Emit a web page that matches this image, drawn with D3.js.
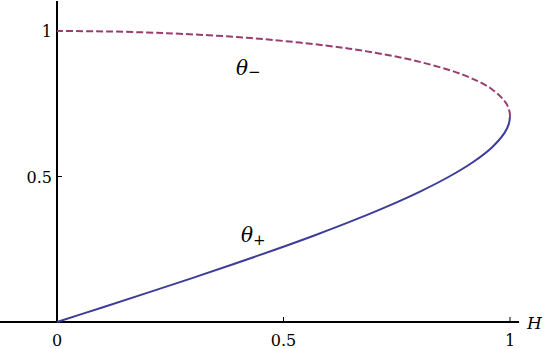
<!DOCTYPE html>
<html>
<head>
<meta charset="utf-8">
<script src="https://cdn.jsdelivr.net/npm/d3@7"></script>
<style>
  body { margin: 0; background: #fff; }
</style>
</head>
<body>
<div id="chart"></div>
<script>
  // lower branch theta+ (solid) : H vs theta
  const hPlus = [0, 0.0999, 0.1990, 0.2966, 0.3919, 0.4841, 0.5724, 0.6557, 0.7332, 0.8037, 0.8660, 0.9187, 0.9600, 0.9879, 0.9972, 1.0];
  const thetaPlus = [0, 0.05, 0.10, 0.15, 0.20, 0.25, 0.30, 0.35, 0.40, 0.45, 0.50, 0.55, 0.60, 0.65, 0.68, 0.7071];
  // upper branch theta- (dashed)
  const hMinus = [1.0, 0.9993, 0.9922, 0.9600, 0.8955, 0.7846, 0.6837, 0.5933, 0.4716, 0.3900, 0.2793, 0.1987, 0.1018, 0];
  const thetaMinus = [0.7071, 0.72, 0.75, 0.80, 0.85, 0.90, 0.93, 0.95, 0.97, 0.98, 0.99, 0.995, 0.9987, 1.0];

  const xTicks = [0, 0.5, 1];
  const yTicks = [0.5, 1];

  const width = 545, height = 349;
  const serif = "DejaVu Serif";

  const svg = d3.select("#chart")
    .append("svg")
      .attr("width", width)
      .attr("height", height)
      .style("font-family", serif);

  const x = d3.scaleLinear().domain([0, 1]).range([57, 510]);
  const y = d3.scaleLinear().domain([0, 1]).range([322, 31]);

  // axes lines
  svg.append("line")
    .attr("x1", 0).attr("x2", x(1.02))
    .attr("y1", y(0)).attr("y2", y(0))
    .attr("stroke", "#000").attr("stroke-width", 2);
  svg.append("line")
    .attr("x1", x(0)).attr("x2", x(0))
    .attr("y1", y(0)).attr("y2", y(1.103))
    .attr("stroke", "#000").attr("stroke-width", 2);

  // x ticks
  svg.selectAll(".xt")
    .data(xTicks.filter(d => d > 0))
    .enter().append("line")
      .attr("x1", d => x(d)).attr("x2", d => x(d))
      .attr("y1", y(0)).attr("y2", y(0) - 5)
      .attr("stroke", "#000").attr("stroke-width", 1);
  svg.selectAll(".xl")
    .data(xTicks)
    .enter().append("text")
      .attr("x", d => x(d))
      .attr("y", 346)
      .attr("text-anchor", "middle")
      .attr("font-size", 16)
      .text(d => d3.format("~g")(d));

  // y ticks
  svg.selectAll(".yt")
    .data(yTicks)
    .enter().append("line")
      .attr("x1", x(0)).attr("x2", x(0) + 5)
      .attr("y1", d => y(d)).attr("y2", d => y(d))
      .attr("stroke", "#000").attr("stroke-width", 1);
  svg.selectAll(".yl")
    .data(yTicks)
    .enter().append("text")
      .attr("x", 52)
      .attr("y", d => y(d) + 6)
      .attr("text-anchor", "end")
      .attr("font-size", 16)
      .text(d => d3.format("~g")(d));

  // axis label
  svg.append("text")
    .attr("x", 527).attr("y", 329)
    .attr("font-size", 17)
    .attr("font-style", "italic")
    .text("H");

  const line = d3.line()
    .x(d => x(d[0]))
    .y(d => y(d[1]))
    .curve(d3.curveCatmullRom);

  svg.append("path")
    .datum(hMinus.map((h, i) => [h, thetaMinus[i]]))
    .attr("fill", "none")
    .attr("stroke", "#993d71")
    .attr("stroke-width", 2)
    .attr("stroke-dasharray", "7,3")
    .attr("d", line);

  svg.append("path")
    .datum(hPlus.map((h, i) => [h, thetaPlus[i]]))
    .attr("fill", "none")
    .attr("stroke", "#3d3d99")
    .attr("stroke-width", 2)
    .attr("d", line);

  // curve labels
  const lab1 = svg.append("text").attr("x", 236).attr("y", 75).attr("font-size", 20);
  lab1.append("tspan").attr("font-style", "italic").text("θ");
  lab1.append("tspan").attr("dy", 2).attr("font-size", 15).text("−");

  const lab2 = svg.append("text").attr("x", 241).attr("y", 242).attr("font-size", 20);
  lab2.append("tspan").attr("font-style", "italic").text("θ");
  lab2.append("tspan").attr("dy", 3).attr("font-size", 15).text("+");
</script>
</body>
</html>
